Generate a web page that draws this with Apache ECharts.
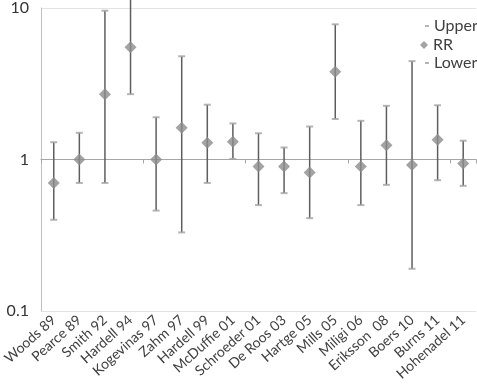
<!DOCTYPE html>
<html>
<head>
<meta charset="utf-8">
<script src="https://cdn.jsdelivr.net/npm/echarts@6/dist/echarts.min.js"></script>
<style>
html,body{margin:0;padding:0;background:#fff;}
#chart{width:477px;height:389px;}
</style>
</head>
<body>
<div id="chart"></div>
<script>
var categories = ['Woods 89','Pearce 89','Smith 92','Hardell 94','Kogevinas 97','Zahm 97','Hardell 99','McDuffie 01','Schroeder 01','De Roos 03','Hartge 05','Mills 05','Miligi 06','Eriksson  08','Boers 10','Burns 11','Hohenadel 11'];
var rr    = [0.70, 1.00, 2.70, 5.50, 1.00, 1.62, 1.29, 1.31, 0.90, 0.90, 0.82, 3.80, 0.90, 1.24, 0.92, 1.35, 0.94];
var upper = [1.30, 1.50, 9.60, 20.0, 1.90, 4.80, 2.30, 1.73, 1.49, 1.20, 1.65, 7.80, 1.80, 2.26, 4.46, 2.28, 1.33];
var lower = [0.40, 0.70, 0.70, 2.70, 0.46, 0.33, 0.70, 1.01, 0.50, 0.60, 0.41, 1.85, 0.50, 0.68, 0.19, 0.73, 0.67];
var yTicks = [0.1, 1, 10];

var FONT = 'Lato';
var chart = echarts.init(document.getElementById('chart'));
var barData = categories.map(function (c, i) { return [i, lower[i], upper[i]]; });

var option = {
  animation: false,
  textStyle: { fontFamily: FONT },
  grid: { left: 34, right: 1, top: 8, bottom: 78, containLabel: false },
  legend: [
    { data: ['Upper'], orient: 'vertical', left: 420, top: 13, itemWidth: 4, itemHeight: 2,
      textStyle: { fontFamily: FONT, fontSize: 16, color: '#404040' } },
    { data: ['RR'], orient: 'vertical', left: 415, top: 32, itemWidth: 8, itemHeight: 8,
      textStyle: { fontFamily: FONT, fontSize: 16, color: '#404040' } },
    { data: ['Lower'], orient: 'vertical', left: 420, top: 50, itemWidth: 4, itemHeight: 2,
      textStyle: { fontFamily: FONT, fontSize: 16, color: '#404040' } }
  ],
  xAxis: [
    {
      type: 'category', data: categories, boundaryGap: true,
      axisLine: { show: false }, axisTick: { show: false },
      axisLabel: { rotate: 42, interval: 0, margin: 7, fontSize: 14, color: '#404040', fontFamily: FONT },
      splitLine: { show: false }
    },
    {
      type: 'category', data: categories, boundaryGap: true, position: 'bottom', offset: -151.5,
      axisLine: { show: true, lineStyle: { color: '#a6a6a6', width: 1 } },
      axisTick: { show: true, length: 4, lineStyle: { color: '#a6a6a6' } },
      axisLabel: { show: false }, splitLine: { show: false }
    }
  ],
  yAxis: {
    type: 'log', logBase: 10, min: 0.1, max: 10,
    axisLine: { show: true, lineStyle: { color: '#bfbfbf' } },
    axisTick: { show: false },
    axisLabel: { fontSize: 16, color: '#333', margin: 12, fontFamily: FONT,
      formatter: function (v) {
        for (var i = 0; i < yTicks.length; i++) { if (Math.abs(v - yTicks[i]) < 1e-9) return String(yTicks[i]); }
        return '';
      } },
    splitLine: { show: true, lineStyle: { color: '#e3e3e3' } }
  },
  series: [
    {
      type: 'custom', name: 'bars', xAxisIndex: 0, clip: false, z: 2,
      data: barData, encode: { x: 0, y: [1, 2] },
      renderItem: function (params, api) {
        var x = api.value(0);
        var a = api.coord([x, api.value(1)]);
        var b = api.coord([x, api.value(2)]);
        return { type: 'line', shape: { x1: a[0], y1: a[1], x2: b[0], y2: b[1] },
          style: { stroke: '#5e5e5e', lineWidth: 1.5 } };
      }
    },
    { type: 'scatter', name: 'Upper', data: upper, symbol: 'rect', symbolSize: [7, 2], clip: true, z: 3,
      itemStyle: { color: '#a3a3a3' } },
    { type: 'scatter', name: 'RR', data: rr, symbol: 'diamond', symbolSize: 12, z: 4,
      itemStyle: { color: '#8c8c8c' } },
    { type: 'scatter', name: 'Lower', data: lower, symbol: 'rect', symbolSize: [7, 2], clip: true, z: 3,
      itemStyle: { color: '#a3a3a3' } }
  ]
};
chart.setOption(option);
</script>
</body>
</html>
